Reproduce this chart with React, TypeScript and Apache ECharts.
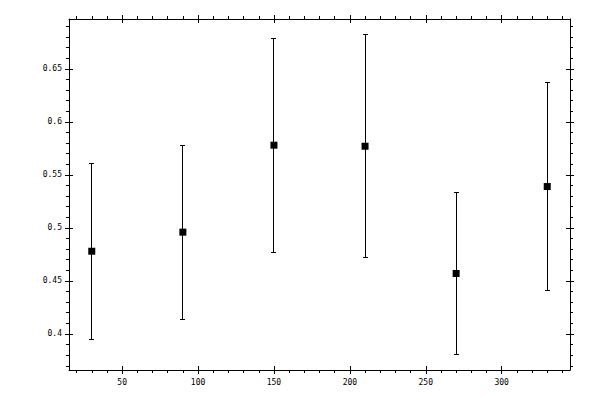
import * as echarts from "echarts";
import React, { useEffect, useRef } from "react";

const xValues = [30, 90, 150, 210, 270, 330];
const means = [0.478, 0.496, 0.578, 0.577, 0.457, 0.539];
const errors = [0.083, 0.082, 0.101, 0.105, 0.076, 0.098];

const xMajorTicks = [50, 100, 150, 200, 250, 300];
const xMinorTicks = [20, 30, 40, 60, 70, 80, 90, 110, 120, 130, 140, 160, 170, 180, 190, 210, 220, 230, 240, 260, 270, 280, 290, 310, 320, 330, 340];
const yMajorTicks = [0.4, 0.45, 0.5, 0.55, 0.6, 0.65];
const yMinorTicks = [0.37, 0.38, 0.39, 0.41, 0.42, 0.43, 0.44, 0.46, 0.47, 0.48, 0.49, 0.51, 0.52, 0.53, 0.54, 0.56, 0.57, 0.58, 0.59, 0.61, 0.62, 0.63, 0.64, 0.66, 0.67, 0.68, 0.69];

const X_MIN = 15;
const X_MAX = 345;
const Y_MIN = 0.366;
const Y_MAX = 0.697;

const FONT = "DejaVu Sans Mono";

const makeAxis = (
  position: string,
  min: number,
  max: number,
  ticks: number[],
  tickLen: number,
  inside: boolean,
  showLine: boolean,
  labels: number[] | null,
  labelMargin: number
) => ({
  type: "value",
  position,
  min,
  max,
  axisLine: { show: showLine, onZero: false, lineStyle: { color: "#000", width: 1 } },
  axisTick: {
    show: true,
    customValues: ticks,
    length: tickLen,
    inside,
    lineStyle: { color: "#000", width: 1 },
  },
  axisLabel: labels
    ? {
        show: true,
        customValues: labels,
        margin: labelMargin,
        color: "#000",
        fontFamily: FONT,
        fontSize: 8,
        formatter: (v: number) => String(+Number(v).toFixed(4)),
      }
    : { show: false },
  splitLine: { show: false },
});

// snap to pixel centre so 1px lines stay crisp
const crisp = (v: number) => Math.round(v - 0.5) + 0.5;

const ErrorBarChart: React.FC = () => {
  const chartRef = useRef<HTMLDivElement | null>(null);

  useEffect(() => {
    document.body.style.margin = "0";
    const chart = echarts.init(chartRef.current, null, { renderer: "svg" });

    const points = xValues.map((x, i) => [x, means[i], errors[i]]);

    chart.setOption({
      animation: false,
      backgroundColor: "#fff",
      grid: { left: 69, right: 30, top: 19, bottom: 30, containLabel: false },
      xAxis: [
        makeAxis("bottom", X_MIN, X_MAX, xMajorTicks, 4, false, true, xMajorTicks, 8),
        makeAxis("bottom", X_MIN, X_MAX, xMajorTicks, 4, true, false, null, 0),
        makeAxis("bottom", X_MIN, X_MAX, xMinorTicks, 3, false, false, null, 0),
        makeAxis("top", X_MIN, X_MAX, xMajorTicks, 4, false, true, null, 0),
        makeAxis("top", X_MIN, X_MAX, xMajorTicks, 4, true, false, null, 0),
        makeAxis("top", X_MIN, X_MAX, xMinorTicks, 3, false, false, null, 0),
      ],
      yAxis: [
        makeAxis("left", Y_MIN, Y_MAX, yMajorTicks, 4, false, true, yMajorTicks, 7),
        makeAxis("left", Y_MIN, Y_MAX, yMajorTicks, 4, true, false, null, 0),
        makeAxis("left", Y_MIN, Y_MAX, yMinorTicks, 3, false, false, null, 0),
        makeAxis("right", Y_MIN, Y_MAX, yMajorTicks, 4, false, true, null, 0),
        makeAxis("right", Y_MIN, Y_MAX, yMajorTicks, 4, true, false, null, 0),
        makeAxis("right", Y_MIN, Y_MAX, yMinorTicks, 3, false, false, null, 0),
      ],
      series: [
        {
          type: "custom",
          xAxisIndex: 0,
          yAxisIndex: 0,
          data: points,
          encode: { x: 0, y: 1 },
          renderItem: (params: any, api: any) => {
            const x = api.value(0);
            const m = api.value(1);
            const e = api.value(2);
            const top = api.coord([x, m + e]);
            const bottom = api.coord([x, m - e]);
            const cx = crisp(top[0]);
            const ty = crisp(top[1]);
            const by = crisp(bottom[1]);
            const cap = 2;
            const style = { stroke: "#000", lineWidth: 1 };
            return {
              type: "group",
              children: [
                { type: "line", shape: { x1: cx, y1: ty, x2: cx, y2: by }, style },
                { type: "line", shape: { x1: cx - cap - 0.5, y1: ty, x2: cx + cap + 0.5, y2: ty }, style },
                { type: "line", shape: { x1: cx - cap - 0.5, y1: by, x2: cx + cap + 0.5, y2: by }, style },
              ],
            };
          },
          z: 2,
        },
        {
          type: "scatter",
          xAxisIndex: 0,
          yAxisIndex: 0,
          data: xValues.map((x, i) => [x, means[i]]),
          symbol: "rect",
          symbolSize: 7,
          itemStyle: { color: "#000", opacity: 1 },
          z: 3,
        },
      ],
    });

    return () => {
      chart.dispose();
    };
  }, []);

  return <div ref={chartRef} style={{ width: "600px", height: "400px" }}></div>;
};

export default function App() {
  return <ErrorBarChart />;
}
